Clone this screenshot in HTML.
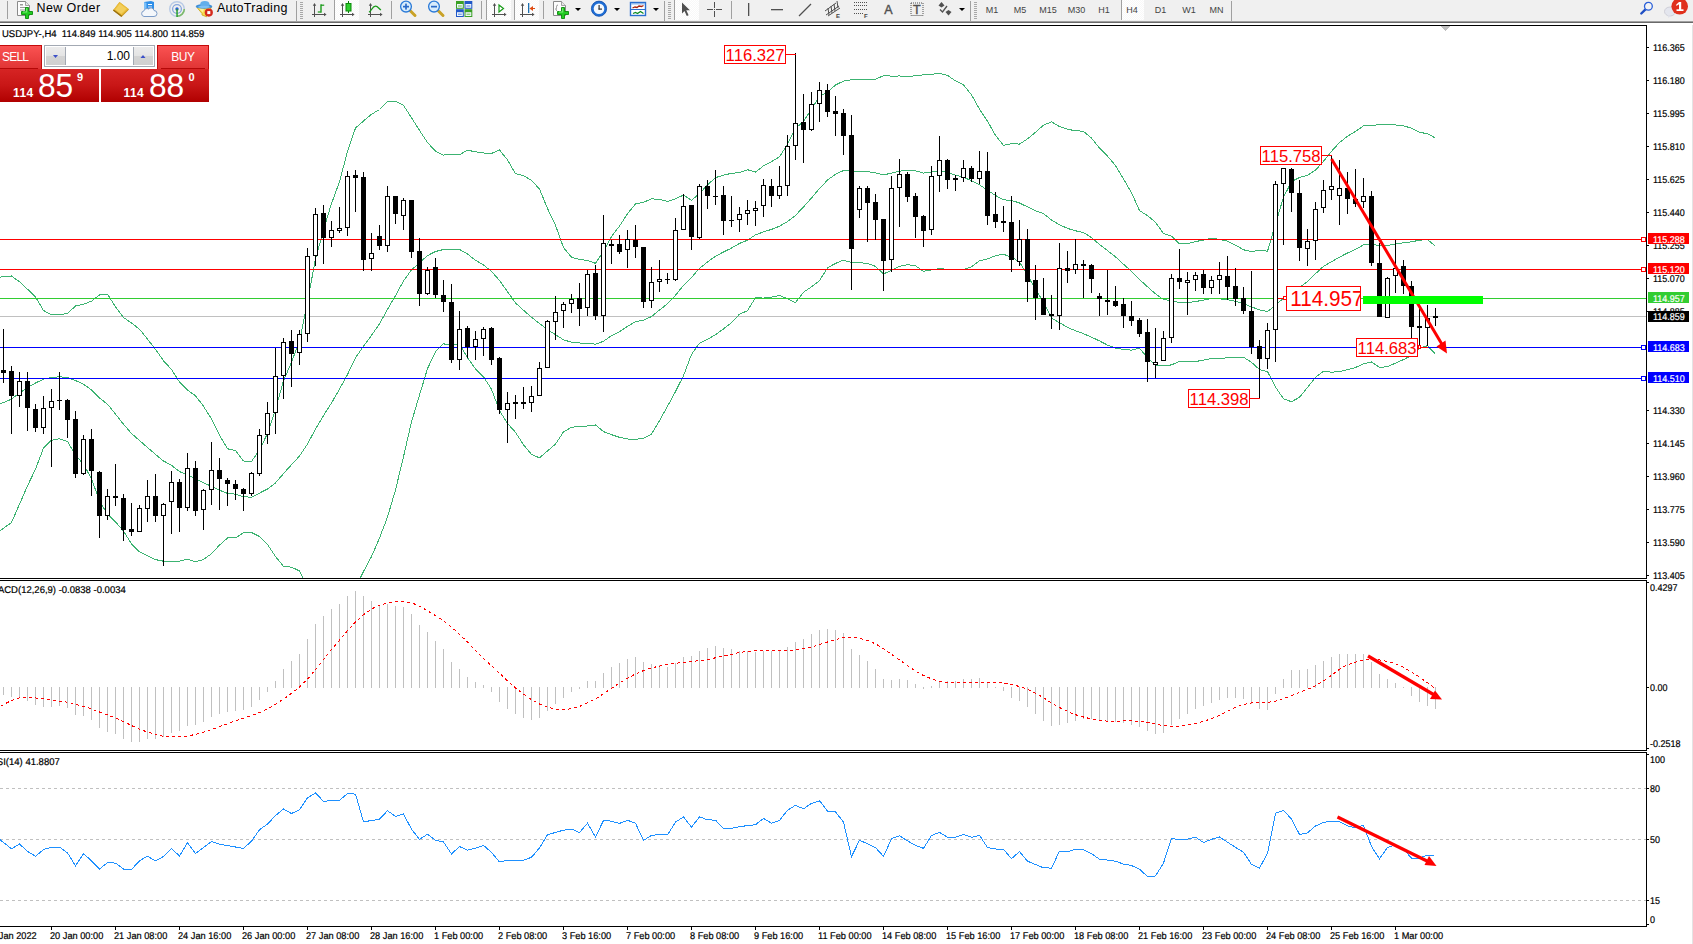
<!DOCTYPE html>
<html><head><meta charset="utf-8"><title>USDJPY H4</title>
<style>
html,body{margin:0;padding:0;background:#fff;}
body{width:1693px;height:944px;position:relative;overflow:hidden;font-family:"Liberation Sans",sans-serif;}
#chart{position:absolute;left:0;top:0;}
.al{position:absolute;left:1653px;font-size:9.8px;transform:scaleX(.915);transform-origin:0 50%;text-rendering:geometricPrecision;-webkit-text-stroke:.2px;line-height:12px;height:12px;color:#000;white-space:nowrap;}
.tagb{position:absolute;left:1648px;width:41px;height:11px;}
.dl{position:absolute;top:931px;font-size:9.8px;transform:scaleX(.94);transform-origin:0 50%;text-rendering:geometricPrecision;-webkit-text-stroke:.2px;line-height:12px;color:#000;white-space:nowrap;}
.pl{position:absolute;border:1px solid #f00;background:#fff;color:#f00;white-space:nowrap;box-sizing:border-box;text-align:center;overflow:hidden;}
.pl span{display:inline-block;transform-origin:50% 50%;}
.t9{position:absolute;font-size:9.8px;transform:scaleX(.97);transform-origin:0 50%;text-rendering:geometricPrecision;-webkit-text-stroke:.2px;line-height:12px;color:#000;white-space:nowrap;}
#tb{position:absolute;left:0;top:0;width:1693px;height:25px;background:#fff;}
#tb .bg{position:absolute;left:0;top:0;width:1693px;height:21px;background:#f0f0f0;}
#tb .l1{position:absolute;left:0;top:21px;width:1693px;height:1px;background:#a0a0a0;}
#tb .l2{position:absolute;left:0;top:22px;width:1693px;height:1px;background:#696969;}
#tb .txt{position:absolute;top:1px;font-size:12px;line-height:15px;color:#000;white-space:nowrap;}
#tb .tf{position:absolute;top:4px;font-size:9px;line-height:12px;color:#444;white-space:nowrap;width:30px;text-align:center;}
#tb svg{position:absolute;left:0;top:0;}
.hl{position:absolute;top:0;height:20px;background-color:#f8f8f8;background-image:linear-gradient(45deg,#fff 25%,transparent 25%,transparent 75%,#fff 75%),linear-gradient(45deg,#fff 25%,transparent 25%,transparent 75%,#fff 75%);background-size:2px 2px;background-position:0 0,1px 1px;border-left:1px solid #a0a0a0;box-sizing:border-box;}
#tp{position:absolute;left:0;top:45px;width:210px;height:57px;font-family:"Liberation Sans",sans-serif;}
#tp .btn{position:absolute;top:0;height:24px;background:linear-gradient(#fa5252,#e03434);border-top:1px solid #c40a0a;box-sizing:border-box;color:#fff;font-size:12px;line-height:22px;white-space:nowrap;}
#tp .pp{position:absolute;top:24px;height:33px;background:linear-gradient(#d62424,#c81616 50%,#b00000);box-sizing:border-box;color:#fff;}
#tp .pp span{position:absolute;white-space:nowrap;}
#tp .s{font-weight:bold;font-size:12px;line-height:12px;top:18px;letter-spacing:.4px;}
#tp .b{font-size:33px;line-height:33px;top:-.3px;transform:scaleX(.96);transform-origin:0 0;}
#tp .u{font-weight:bold;font-size:11px;line-height:11px;top:3px;}
#vol{position:absolute;left:44px;top:0;width:111px;height:22px;border:1px solid #a3a9b3;box-sizing:border-box;background:#fff;}
#vol .sb{position:absolute;top:1px;width:19px;height:18px;background:linear-gradient(#ececec,#e4e4e4 48%,#d4d4d4 52%,#d0d0d0);}
#vol .v{position:absolute;right:24px;top:3px;font-size:12px;line-height:14px;color:#000;}

</style></head><body>
<svg id="chart" width="1693" height="944" viewBox="0 0 1693 944" shape-rendering="crispEdges">
<defs><clipPath id="cm"><rect x="0" y="26" width="1646" height="552"/></clipPath></defs>
<rect x="0" y="316" width="1646" height="1" fill="#c0c0c0"/>
<g clip-path="url(#cm)">
<polyline points="-4.5,277.5 3.5,276.8 11.5,276.0 19.5,281.8 27.5,289.2 35.5,296.8 43.5,310.5 51.5,314.8 59.5,314.8 67.5,313.5 75.5,306.0 83.5,304.2 91.5,301.2 99.5,295.0 107.5,294.2 115.5,306.8 123.5,317.5 131.5,323.0 139.5,329.2 147.5,339.2 155.5,349.3 163.5,360.8 171.5,369.4 179.5,382.1 187.5,390.1 195.5,395.7 203.5,406.3 211.5,418.9 219.5,435.4 227.5,448.8 235.5,450.5 243.5,461.0 251.5,461.6 259.5,449.7 267.5,433.6 275.5,409.2 283.5,380.9 291.5,362.2 299.5,341.1 307.5,301.7 315.5,258.9 323.5,230.0 331.5,203.5 339.5,181.9 347.5,151.3 355.5,128.0 363.5,121.0 371.5,114.3 379.5,109.5 387.5,101.7 395.5,101.3 403.5,105.3 411.5,117.8 419.5,130.4 427.5,142.6 435.5,151.2 443.5,155.1 451.5,154.1 459.5,154.7 467.5,150.2 475.5,151.8 483.5,153.0 491.5,153.5 499.5,150.0 507.5,159.9 515.5,173.7 523.5,175.6 531.5,180.4 539.5,189.1 547.5,208.5 555.5,225.2 563.5,247.6 571.5,257.2 579.5,259.5 587.5,260.4 595.5,263.4 603.5,251.0 611.5,236.5 619.5,226.1 627.5,213.7 635.5,204.0 643.5,202.3 651.5,198.8 659.5,199.4 667.5,201.4 675.5,198.8 683.5,195.1 691.5,200.4 699.5,193.5 707.5,184.9 715.5,177.6 723.5,175.2 731.5,173.3 739.5,172.7 747.5,169.7 755.5,172.1 763.5,165.8 771.5,161.7 779.5,156.8 787.5,144.4 795.5,128.3 803.5,121.5 811.5,109.2 819.5,96.4 827.5,92.2 835.5,85.0 843.5,81.1 851.5,79.8 859.5,79.9 867.5,79.8 875.5,79.2 883.5,75.7 891.5,76.1 899.5,76.0 907.5,76.2 915.5,75.9 923.5,74.8 931.5,74.4 939.5,73.2 947.5,75.4 955.5,80.8 963.5,84.9 971.5,94.8 979.5,109.1 987.5,121.2 995.5,135.3 1003.5,145.4 1011.5,143.7 1019.5,144.1 1027.5,138.9 1035.5,132.2 1043.5,125.2 1051.5,121.8 1059.5,126.6 1067.5,129.3 1075.5,130.7 1083.5,131.3 1091.5,138.1 1099.5,148.1 1107.5,156.1 1115.5,165.6 1123.5,179.0 1131.5,192.6 1139.5,210.6 1147.5,215.7 1155.5,222.2 1163.5,233.5 1171.5,236.1 1179.5,243.8 1187.5,243.8 1195.5,241.5 1203.5,240.2 1211.5,238.3 1219.5,239.3 1227.5,241.2 1235.5,245.2 1243.5,249.8 1251.5,251.5 1259.5,250.3 1267.5,251.2 1275.5,223.8 1283.5,197.3 1291.5,181.6 1299.5,177.5 1307.5,175.4 1315.5,170.1 1323.5,161.3 1331.5,151.3 1339.5,142.6 1347.5,136.3 1355.5,131.3 1363.5,125.9 1371.5,125.8 1379.5,124.4 1387.5,124.4 1395.5,124.9 1403.5,125.9 1411.5,128.1 1419.5,132.4 1427.5,133.6 1435.5,138.2" fill="none" stroke="#3cb371" stroke-width="1"/>
<polyline points="-4.5,405.8 3.5,402.5 11.5,399.2 19.5,393.0 27.5,387.5 35.5,383.0 43.5,379.2 51.5,377.5 59.5,376.8 67.5,377.5 75.5,380.5 83.5,384.2 91.5,390.0 99.5,398.0 107.5,404.2 115.5,414.2 123.5,424.2 131.5,433.5 139.5,440.5 147.5,447.5 155.5,454.4 163.5,461.0 171.5,465.3 179.5,471.6 187.5,474.6 195.5,478.8 203.5,482.9 211.5,486.3 219.5,490.2 227.5,493.4 235.5,494.2 243.5,496.9 251.5,497.1 259.5,493.1 267.5,489.0 275.5,482.9 283.5,473.6 291.5,464.7 299.5,456.0 307.5,444.0 315.5,429.0 323.5,415.6 331.5,403.0 339.5,389.1 347.5,374.5 355.5,357.8 363.5,346.2 371.5,335.4 379.5,323.8 387.5,309.4 395.5,295.6 403.5,281.0 411.5,269.9 419.5,262.8 427.5,255.6 435.5,251.5 443.5,249.5 451.5,249.8 459.5,249.5 467.5,254.0 475.5,260.3 483.5,264.9 491.5,271.4 499.5,280.4 507.5,291.7 515.5,303.0 523.5,310.2 531.5,317.3 539.5,323.5 547.5,329.7 555.5,334.6 563.5,339.8 571.5,342.2 579.5,343.0 587.5,343.2 595.5,344.2 603.5,341.3 611.5,335.6 619.5,331.7 627.5,326.4 635.5,321.7 643.5,320.3 651.5,316.5 659.5,310.0 667.5,303.8 675.5,295.2 683.5,285.4 691.5,277.4 699.5,268.4 707.5,262.0 715.5,256.2 723.5,252.0 731.5,248.1 739.5,243.4 747.5,240.2 755.5,234.9 763.5,231.9 771.5,229.4 779.5,226.2 787.5,221.6 795.5,215.4 803.5,206.9 811.5,198.0 819.5,188.5 827.5,180.1 835.5,174.2 843.5,170.6 851.5,171.2 859.5,171.3 867.5,171.6 875.5,172.8 883.5,174.8 891.5,173.2 899.5,171.2 907.5,170.4 915.5,170.8 923.5,173.1 931.5,172.1 939.5,170.8 947.5,172.5 955.5,175.2 963.5,177.2 971.5,180.8 979.5,184.9 987.5,190.1 995.5,195.5 1003.5,199.8 1011.5,200.4 1019.5,203.0 1027.5,206.9 1035.5,210.9 1043.5,213.6 1051.5,220.0 1059.5,224.7 1067.5,228.4 1075.5,230.8 1083.5,232.5 1091.5,237.6 1099.5,244.5 1107.5,250.6 1115.5,256.9 1123.5,264.2 1131.5,271.3 1139.5,279.4 1147.5,286.8 1155.5,293.8 1163.5,299.6 1171.5,300.5 1179.5,302.6 1187.5,302.6 1195.5,301.5 1203.5,300.2 1211.5,298.4 1219.5,298.8 1227.5,299.6 1235.5,301.3 1243.5,303.5 1251.5,306.9 1259.5,309.9 1267.5,311.4 1275.5,305.4 1283.5,298.0 1291.5,291.7 1299.5,287.4 1307.5,281.4 1315.5,273.7 1323.5,266.3 1331.5,261.8 1339.5,257.1 1347.5,253.0 1355.5,249.4 1363.5,244.8 1371.5,243.9 1379.5,245.9 1387.5,245.5 1395.5,244.0 1403.5,242.8 1411.5,241.8 1419.5,240.2 1427.5,239.6 1435.5,246.2" fill="none" stroke="#3cb371" stroke-width="1"/>
<polyline points="-4.5,534.0 3.5,528.2 11.5,522.5 19.5,504.2 27.5,485.8 35.5,469.2 43.5,448.0 51.5,440.2 59.5,438.8 67.5,441.5 75.5,455.0 83.5,464.2 91.5,478.8 99.5,501.0 107.5,514.2 115.5,521.8 123.5,531.0 131.5,544.0 139.5,551.8 147.5,555.8 155.5,559.6 163.5,561.2 171.5,561.2 179.5,561.1 187.5,559.2 195.5,561.8 203.5,559.5 211.5,553.7 219.5,545.1 227.5,538.0 235.5,537.9 243.5,532.8 251.5,532.5 259.5,536.5 267.5,544.4 275.5,556.6 283.5,566.3 291.5,567.2 299.5,570.9 307.5,586.3 315.5,599.0 323.5,601.2 331.5,602.6 339.5,596.2 347.5,597.7 355.5,587.7 363.5,571.5 371.5,556.6 379.5,538.0 387.5,517.1 395.5,490.0 403.5,456.7 411.5,421.9 419.5,395.1 427.5,368.6 435.5,351.8 443.5,343.8 451.5,345.4 459.5,344.3 467.5,357.8 475.5,368.8 483.5,376.8 491.5,389.2 499.5,410.7 507.5,423.5 515.5,432.3 523.5,444.8 531.5,454.3 539.5,457.9 547.5,451.0 555.5,444.1 563.5,431.9 571.5,427.2 579.5,426.5 587.5,426.0 595.5,425.0 603.5,431.6 611.5,434.7 619.5,437.3 627.5,439.0 635.5,439.4 643.5,438.2 651.5,434.1 659.5,420.6 667.5,406.3 675.5,391.6 683.5,375.7 691.5,354.4 699.5,343.2 707.5,339.2 715.5,334.8 723.5,328.9 731.5,322.8 739.5,314.1 747.5,310.7 755.5,297.7 763.5,298.1 771.5,297.2 779.5,295.5 787.5,298.7 795.5,302.6 803.5,292.2 811.5,286.8 819.5,280.6 827.5,267.9 835.5,263.4 843.5,260.1 851.5,262.6 859.5,262.7 867.5,263.5 875.5,266.4 883.5,273.9 891.5,270.3 899.5,266.4 907.5,264.6 915.5,265.8 923.5,271.3 931.5,269.9 939.5,268.5 947.5,269.5 955.5,269.7 963.5,269.4 971.5,266.9 979.5,260.7 987.5,258.9 995.5,255.7 1003.5,254.3 1011.5,257.1 1019.5,261.9 1027.5,275.0 1035.5,289.6 1043.5,302.0 1051.5,318.1 1059.5,322.7 1067.5,327.4 1075.5,330.8 1083.5,333.7 1091.5,337.2 1099.5,340.9 1107.5,345.1 1115.5,348.2 1123.5,349.4 1131.5,350.1 1139.5,348.2 1147.5,357.8 1155.5,365.4 1163.5,365.8 1171.5,364.9 1179.5,361.5 1187.5,361.5 1195.5,361.5 1203.5,360.2 1211.5,358.5 1219.5,358.3 1227.5,357.9 1235.5,357.3 1243.5,357.2 1251.5,362.3 1259.5,369.6 1267.5,371.5 1275.5,387.0 1283.5,398.8 1291.5,401.7 1299.5,397.3 1307.5,387.4 1315.5,377.3 1323.5,371.4 1331.5,372.2 1339.5,371.6 1347.5,369.6 1355.5,367.5 1363.5,363.7 1371.5,361.9 1379.5,367.5 1387.5,366.6 1395.5,363.1 1403.5,359.6 1411.5,355.5 1419.5,348.1 1427.5,345.7 1435.5,354.3" fill="none" stroke="#3cb371" stroke-width="1"/>
</g>
<rect x="0" y="239" width="1646" height="1" fill="#ff0000"/>
<rect x="0" y="269" width="1646" height="1" fill="#ff0000"/>
<rect x="0" y="298" width="1646" height="1" fill="#32cd32"/>
<rect x="0" y="347" width="1646" height="1" fill="#0000ff"/>
<rect x="0" y="378" width="1646" height="1" fill="#0000ff"/>
<rect x="3" y="329" width="1" height="54" fill="#000"/>
<rect x="1" y="370" width="5" height="3" fill="#000"/>
<rect x="11" y="366" width="1" height="68" fill="#000"/>
<rect x="9" y="371" width="5" height="25" fill="#000"/>
<rect x="19" y="372" width="1" height="35" fill="#000"/>
<rect x="17" y="381" width="5" height="15" fill="#000"/>
<rect x="18" y="382" width="3" height="13" fill="#fff"/>
<rect x="27" y="372" width="1" height="59" fill="#000"/>
<rect x="25" y="381" width="5" height="27" fill="#000"/>
<rect x="35" y="404" width="1" height="28" fill="#000"/>
<rect x="33" y="409" width="5" height="19" fill="#000"/>
<rect x="43" y="396" width="1" height="38" fill="#000"/>
<rect x="41" y="408" width="5" height="20" fill="#000"/>
<rect x="42" y="409" width="3" height="18" fill="#fff"/>
<rect x="51" y="389" width="1" height="78" fill="#000"/>
<rect x="49" y="401" width="5" height="7" fill="#000"/>
<rect x="50" y="402" width="3" height="5" fill="#fff"/>
<rect x="59" y="372" width="1" height="38" fill="#000"/>
<rect x="57" y="400" width="5" height="1" fill="#000"/>
<rect x="67" y="399" width="1" height="39" fill="#000"/>
<rect x="65" y="400" width="5" height="20" fill="#000"/>
<rect x="75" y="411" width="1" height="67" fill="#000"/>
<rect x="73" y="419" width="5" height="55" fill="#000"/>
<rect x="83" y="435" width="1" height="40" fill="#000"/>
<rect x="81" y="439" width="5" height="35" fill="#000"/>
<rect x="82" y="440" width="3" height="33" fill="#fff"/>
<rect x="91" y="429" width="1" height="67" fill="#000"/>
<rect x="89" y="439" width="5" height="32" fill="#000"/>
<rect x="99" y="471" width="1" height="67" fill="#000"/>
<rect x="97" y="472" width="5" height="44" fill="#000"/>
<rect x="107" y="489" width="1" height="31" fill="#000"/>
<rect x="105" y="496" width="5" height="20" fill="#000"/>
<rect x="106" y="497" width="3" height="18" fill="#fff"/>
<rect x="115" y="464" width="1" height="42" fill="#000"/>
<rect x="113" y="496" width="5" height="2" fill="#000"/>
<rect x="123" y="494" width="1" height="47" fill="#000"/>
<rect x="121" y="498" width="5" height="32" fill="#000"/>
<rect x="131" y="503" width="1" height="33" fill="#000"/>
<rect x="129" y="529" width="5" height="3" fill="#000"/>
<rect x="139" y="505" width="1" height="27" fill="#000"/>
<rect x="137" y="508" width="5" height="24" fill="#000"/>
<rect x="138" y="509" width="3" height="22" fill="#fff"/>
<rect x="147" y="480" width="1" height="42" fill="#000"/>
<rect x="145" y="496" width="5" height="13" fill="#000"/>
<rect x="146" y="497" width="3" height="11" fill="#fff"/>
<rect x="155" y="474" width="1" height="48" fill="#000"/>
<rect x="153" y="496" width="5" height="20" fill="#000"/>
<rect x="163" y="503" width="1" height="63" fill="#000"/>
<rect x="161" y="504" width="5" height="12" fill="#000"/>
<rect x="162" y="505" width="3" height="10" fill="#fff"/>
<rect x="171" y="471" width="1" height="63" fill="#000"/>
<rect x="169" y="482" width="5" height="20" fill="#000"/>
<rect x="170" y="483" width="3" height="18" fill="#fff"/>
<rect x="179" y="479" width="1" height="53" fill="#000"/>
<rect x="177" y="482" width="5" height="26" fill="#000"/>
<rect x="187" y="453" width="1" height="58" fill="#000"/>
<rect x="185" y="468" width="5" height="40" fill="#000"/>
<rect x="186" y="469" width="3" height="38" fill="#fff"/>
<rect x="195" y="461" width="1" height="55" fill="#000"/>
<rect x="193" y="468" width="5" height="43" fill="#000"/>
<rect x="203" y="489" width="1" height="41" fill="#000"/>
<rect x="201" y="490" width="5" height="20" fill="#000"/>
<rect x="202" y="491" width="3" height="18" fill="#fff"/>
<rect x="211" y="442" width="1" height="63" fill="#000"/>
<rect x="209" y="470" width="5" height="20" fill="#000"/>
<rect x="210" y="471" width="3" height="18" fill="#fff"/>
<rect x="219" y="458" width="1" height="52" fill="#000"/>
<rect x="217" y="470" width="5" height="9" fill="#000"/>
<rect x="227" y="478" width="1" height="28" fill="#000"/>
<rect x="225" y="480" width="5" height="4" fill="#000"/>
<rect x="235" y="480" width="1" height="20" fill="#000"/>
<rect x="233" y="484" width="5" height="5" fill="#000"/>
<rect x="243" y="488" width="1" height="23" fill="#000"/>
<rect x="241" y="489" width="5" height="5" fill="#000"/>
<rect x="251" y="472" width="1" height="24" fill="#000"/>
<rect x="249" y="473" width="5" height="21" fill="#000"/>
<rect x="250" y="474" width="3" height="19" fill="#fff"/>
<rect x="259" y="429" width="1" height="47" fill="#000"/>
<rect x="257" y="435" width="5" height="39" fill="#000"/>
<rect x="258" y="436" width="3" height="37" fill="#fff"/>
<rect x="267" y="402" width="1" height="42" fill="#000"/>
<rect x="265" y="413" width="5" height="22" fill="#000"/>
<rect x="266" y="414" width="3" height="20" fill="#fff"/>
<rect x="275" y="348" width="1" height="86" fill="#000"/>
<rect x="273" y="376" width="5" height="37" fill="#000"/>
<rect x="274" y="377" width="3" height="35" fill="#fff"/>
<rect x="283" y="338" width="1" height="61" fill="#000"/>
<rect x="281" y="342" width="5" height="34" fill="#000"/>
<rect x="282" y="343" width="3" height="32" fill="#fff"/>
<rect x="291" y="330" width="1" height="57" fill="#000"/>
<rect x="289" y="341" width="5" height="13" fill="#000"/>
<rect x="299" y="330" width="1" height="35" fill="#000"/>
<rect x="297" y="334" width="5" height="19" fill="#000"/>
<rect x="298" y="335" width="3" height="17" fill="#fff"/>
<rect x="307" y="248" width="1" height="94" fill="#000"/>
<rect x="305" y="256" width="5" height="78" fill="#000"/>
<rect x="306" y="257" width="3" height="76" fill="#fff"/>
<rect x="315" y="208" width="1" height="58" fill="#000"/>
<rect x="313" y="214" width="5" height="42" fill="#000"/>
<rect x="314" y="215" width="3" height="40" fill="#fff"/>
<rect x="323" y="205" width="1" height="59" fill="#000"/>
<rect x="321" y="213" width="5" height="25" fill="#000"/>
<rect x="331" y="221" width="1" height="26" fill="#000"/>
<rect x="329" y="230" width="5" height="8" fill="#000"/>
<rect x="330" y="231" width="3" height="6" fill="#fff"/>
<rect x="339" y="207" width="1" height="26" fill="#000"/>
<rect x="337" y="228" width="5" height="3" fill="#000"/>
<rect x="338" y="229" width="3" height="1" fill="#fff"/>
<rect x="347" y="171" width="1" height="65" fill="#000"/>
<rect x="345" y="176" width="5" height="52" fill="#000"/>
<rect x="346" y="177" width="3" height="50" fill="#fff"/>
<rect x="355" y="170" width="1" height="42" fill="#000"/>
<rect x="353" y="175" width="5" height="3" fill="#000"/>
<rect x="363" y="172" width="1" height="99" fill="#000"/>
<rect x="361" y="177" width="5" height="83" fill="#000"/>
<rect x="371" y="233" width="1" height="38" fill="#000"/>
<rect x="369" y="253" width="5" height="6" fill="#000"/>
<rect x="370" y="254" width="3" height="4" fill="#fff"/>
<rect x="379" y="225" width="1" height="25" fill="#000"/>
<rect x="377" y="236" width="5" height="10" fill="#000"/>
<rect x="387" y="186" width="1" height="66" fill="#000"/>
<rect x="385" y="196" width="5" height="50" fill="#000"/>
<rect x="386" y="197" width="3" height="48" fill="#fff"/>
<rect x="395" y="196" width="1" height="28" fill="#000"/>
<rect x="393" y="196" width="5" height="18" fill="#000"/>
<rect x="403" y="198" width="1" height="32" fill="#000"/>
<rect x="401" y="200" width="5" height="16" fill="#000"/>
<rect x="402" y="201" width="3" height="14" fill="#fff"/>
<rect x="411" y="200" width="1" height="58" fill="#000"/>
<rect x="409" y="200" width="5" height="52" fill="#000"/>
<rect x="419" y="238" width="1" height="68" fill="#000"/>
<rect x="417" y="251" width="5" height="43" fill="#000"/>
<rect x="427" y="267" width="1" height="28" fill="#000"/>
<rect x="425" y="270" width="5" height="24" fill="#000"/>
<rect x="426" y="271" width="3" height="22" fill="#fff"/>
<rect x="435" y="258" width="1" height="40" fill="#000"/>
<rect x="433" y="267" width="5" height="28" fill="#000"/>
<rect x="443" y="280" width="1" height="32" fill="#000"/>
<rect x="441" y="295" width="5" height="7" fill="#000"/>
<rect x="451" y="284" width="1" height="79" fill="#000"/>
<rect x="449" y="302" width="5" height="58" fill="#000"/>
<rect x="459" y="311" width="1" height="59" fill="#000"/>
<rect x="457" y="329" width="5" height="31" fill="#000"/>
<rect x="458" y="330" width="3" height="29" fill="#fff"/>
<rect x="467" y="326" width="1" height="32" fill="#000"/>
<rect x="465" y="328" width="5" height="19" fill="#000"/>
<rect x="475" y="331" width="1" height="29" fill="#000"/>
<rect x="473" y="339" width="5" height="8" fill="#000"/>
<rect x="474" y="340" width="3" height="6" fill="#fff"/>
<rect x="483" y="327" width="1" height="29" fill="#000"/>
<rect x="481" y="329" width="5" height="10" fill="#000"/>
<rect x="482" y="330" width="3" height="8" fill="#fff"/>
<rect x="491" y="327" width="1" height="38" fill="#000"/>
<rect x="489" y="328" width="5" height="32" fill="#000"/>
<rect x="499" y="357" width="1" height="57" fill="#000"/>
<rect x="497" y="358" width="5" height="52" fill="#000"/>
<rect x="507" y="392" width="1" height="51" fill="#000"/>
<rect x="505" y="403" width="5" height="7" fill="#000"/>
<rect x="506" y="404" width="3" height="5" fill="#fff"/>
<rect x="515" y="395" width="1" height="24" fill="#000"/>
<rect x="513" y="402" width="5" height="2" fill="#000"/>
<rect x="523" y="387" width="1" height="22" fill="#000"/>
<rect x="521" y="402" width="5" height="2" fill="#000"/>
<rect x="531" y="386" width="1" height="26" fill="#000"/>
<rect x="529" y="396" width="5" height="7" fill="#000"/>
<rect x="530" y="397" width="3" height="5" fill="#fff"/>
<rect x="539" y="362" width="1" height="34" fill="#000"/>
<rect x="537" y="368" width="5" height="28" fill="#000"/>
<rect x="538" y="369" width="3" height="26" fill="#fff"/>
<rect x="547" y="320" width="1" height="48" fill="#000"/>
<rect x="545" y="321" width="5" height="47" fill="#000"/>
<rect x="546" y="322" width="3" height="45" fill="#fff"/>
<rect x="555" y="296" width="1" height="44" fill="#000"/>
<rect x="553" y="312" width="5" height="10" fill="#000"/>
<rect x="554" y="313" width="3" height="8" fill="#fff"/>
<rect x="563" y="302" width="1" height="26" fill="#000"/>
<rect x="561" y="304" width="5" height="7" fill="#000"/>
<rect x="562" y="305" width="3" height="5" fill="#fff"/>
<rect x="571" y="294" width="1" height="19" fill="#000"/>
<rect x="569" y="299" width="5" height="5" fill="#000"/>
<rect x="570" y="300" width="3" height="3" fill="#fff"/>
<rect x="579" y="283" width="1" height="43" fill="#000"/>
<rect x="577" y="298" width="5" height="11" fill="#000"/>
<rect x="587" y="270" width="1" height="46" fill="#000"/>
<rect x="585" y="274" width="5" height="34" fill="#000"/>
<rect x="586" y="275" width="3" height="32" fill="#fff"/>
<rect x="595" y="265" width="1" height="55" fill="#000"/>
<rect x="593" y="273" width="5" height="43" fill="#000"/>
<rect x="603" y="215" width="1" height="117" fill="#000"/>
<rect x="601" y="243" width="5" height="73" fill="#000"/>
<rect x="602" y="244" width="3" height="71" fill="#fff"/>
<rect x="611" y="240" width="1" height="24" fill="#000"/>
<rect x="609" y="244" width="5" height="2" fill="#000"/>
<rect x="619" y="235" width="1" height="19" fill="#000"/>
<rect x="617" y="244" width="5" height="8" fill="#000"/>
<rect x="627" y="230" width="1" height="38" fill="#000"/>
<rect x="625" y="239" width="5" height="11" fill="#000"/>
<rect x="626" y="240" width="3" height="9" fill="#fff"/>
<rect x="635" y="225" width="1" height="33" fill="#000"/>
<rect x="633" y="240" width="5" height="7" fill="#000"/>
<rect x="643" y="247" width="1" height="61" fill="#000"/>
<rect x="641" y="247" width="5" height="55" fill="#000"/>
<rect x="651" y="267" width="1" height="41" fill="#000"/>
<rect x="649" y="282" width="5" height="19" fill="#000"/>
<rect x="650" y="283" width="3" height="17" fill="#fff"/>
<rect x="659" y="260" width="1" height="32" fill="#000"/>
<rect x="657" y="279" width="5" height="3" fill="#000"/>
<rect x="658" y="280" width="3" height="1" fill="#fff"/>
<rect x="667" y="273" width="1" height="11" fill="#000"/>
<rect x="665" y="279" width="5" height="1" fill="#000"/>
<rect x="675" y="218" width="1" height="63" fill="#000"/>
<rect x="673" y="230" width="5" height="50" fill="#000"/>
<rect x="674" y="231" width="3" height="48" fill="#fff"/>
<rect x="683" y="194" width="1" height="36" fill="#000"/>
<rect x="681" y="206" width="5" height="24" fill="#000"/>
<rect x="682" y="207" width="3" height="22" fill="#fff"/>
<rect x="691" y="205" width="1" height="45" fill="#000"/>
<rect x="689" y="205" width="5" height="32" fill="#000"/>
<rect x="699" y="184" width="1" height="55" fill="#000"/>
<rect x="697" y="186" width="5" height="52" fill="#000"/>
<rect x="698" y="187" width="3" height="50" fill="#fff"/>
<rect x="707" y="180" width="1" height="29" fill="#000"/>
<rect x="705" y="186" width="5" height="10" fill="#000"/>
<rect x="715" y="170" width="1" height="35" fill="#000"/>
<rect x="713" y="196" width="5" height="1" fill="#000"/>
<rect x="723" y="186" width="1" height="49" fill="#000"/>
<rect x="721" y="195" width="5" height="26" fill="#000"/>
<rect x="731" y="196" width="1" height="31" fill="#000"/>
<rect x="729" y="220" width="5" height="1" fill="#000"/>
<rect x="739" y="207" width="1" height="25" fill="#000"/>
<rect x="737" y="214" width="5" height="6" fill="#000"/>
<rect x="738" y="215" width="3" height="4" fill="#fff"/>
<rect x="747" y="200" width="1" height="25" fill="#000"/>
<rect x="745" y="210" width="5" height="4" fill="#000"/>
<rect x="746" y="211" width="3" height="2" fill="#fff"/>
<rect x="755" y="201" width="1" height="25" fill="#000"/>
<rect x="753" y="208" width="5" height="3" fill="#000"/>
<rect x="754" y="209" width="3" height="1" fill="#fff"/>
<rect x="763" y="179" width="1" height="38" fill="#000"/>
<rect x="761" y="185" width="5" height="21" fill="#000"/>
<rect x="762" y="186" width="3" height="19" fill="#fff"/>
<rect x="771" y="179" width="1" height="28" fill="#000"/>
<rect x="769" y="186" width="5" height="10" fill="#000"/>
<rect x="779" y="166" width="1" height="33" fill="#000"/>
<rect x="777" y="186" width="5" height="10" fill="#000"/>
<rect x="778" y="187" width="3" height="8" fill="#fff"/>
<rect x="787" y="135" width="1" height="61" fill="#000"/>
<rect x="785" y="146" width="5" height="40" fill="#000"/>
<rect x="786" y="147" width="3" height="38" fill="#fff"/>
<rect x="795" y="53" width="1" height="107" fill="#000"/>
<rect x="793" y="123" width="5" height="23" fill="#000"/>
<rect x="794" y="124" width="3" height="21" fill="#fff"/>
<rect x="803" y="94" width="1" height="69" fill="#000"/>
<rect x="801" y="122" width="5" height="8" fill="#000"/>
<rect x="811" y="92" width="1" height="39" fill="#000"/>
<rect x="809" y="104" width="5" height="26" fill="#000"/>
<rect x="810" y="105" width="3" height="24" fill="#fff"/>
<rect x="819" y="82" width="1" height="40" fill="#000"/>
<rect x="817" y="90" width="5" height="14" fill="#000"/>
<rect x="818" y="91" width="3" height="12" fill="#fff"/>
<rect x="827" y="84" width="1" height="33" fill="#000"/>
<rect x="825" y="90" width="5" height="22" fill="#000"/>
<rect x="835" y="96" width="1" height="40" fill="#000"/>
<rect x="833" y="111" width="5" height="3" fill="#000"/>
<rect x="843" y="109" width="1" height="46" fill="#000"/>
<rect x="841" y="113" width="5" height="23" fill="#000"/>
<rect x="851" y="115" width="1" height="175" fill="#000"/>
<rect x="849" y="135" width="5" height="114" fill="#000"/>
<rect x="859" y="186" width="1" height="32" fill="#000"/>
<rect x="857" y="188" width="5" height="22" fill="#000"/>
<rect x="858" y="189" width="3" height="20" fill="#fff"/>
<rect x="867" y="186" width="1" height="56" fill="#000"/>
<rect x="865" y="188" width="5" height="15" fill="#000"/>
<rect x="875" y="194" width="1" height="46" fill="#000"/>
<rect x="873" y="202" width="5" height="18" fill="#000"/>
<rect x="883" y="219" width="1" height="72" fill="#000"/>
<rect x="881" y="219" width="5" height="42" fill="#000"/>
<rect x="891" y="176" width="1" height="96" fill="#000"/>
<rect x="889" y="188" width="5" height="72" fill="#000"/>
<rect x="890" y="189" width="3" height="70" fill="#fff"/>
<rect x="899" y="159" width="1" height="68" fill="#000"/>
<rect x="897" y="174" width="5" height="14" fill="#000"/>
<rect x="898" y="175" width="3" height="12" fill="#fff"/>
<rect x="907" y="172" width="1" height="30" fill="#000"/>
<rect x="905" y="174" width="5" height="23" fill="#000"/>
<rect x="915" y="193" width="1" height="45" fill="#000"/>
<rect x="913" y="196" width="5" height="21" fill="#000"/>
<rect x="923" y="215" width="1" height="32" fill="#000"/>
<rect x="921" y="216" width="5" height="15" fill="#000"/>
<rect x="931" y="166" width="1" height="69" fill="#000"/>
<rect x="929" y="176" width="5" height="54" fill="#000"/>
<rect x="930" y="177" width="3" height="52" fill="#fff"/>
<rect x="939" y="136" width="1" height="56" fill="#000"/>
<rect x="937" y="160" width="5" height="16" fill="#000"/>
<rect x="938" y="161" width="3" height="14" fill="#fff"/>
<rect x="947" y="159" width="1" height="30" fill="#000"/>
<rect x="945" y="160" width="5" height="20" fill="#000"/>
<rect x="955" y="175" width="1" height="16" fill="#000"/>
<rect x="953" y="178" width="5" height="2" fill="#000"/>
<rect x="963" y="160" width="1" height="22" fill="#000"/>
<rect x="961" y="168" width="5" height="10" fill="#000"/>
<rect x="962" y="169" width="3" height="8" fill="#fff"/>
<rect x="971" y="166" width="1" height="16" fill="#000"/>
<rect x="969" y="168" width="5" height="11" fill="#000"/>
<rect x="979" y="151" width="1" height="33" fill="#000"/>
<rect x="977" y="171" width="5" height="8" fill="#000"/>
<rect x="978" y="172" width="3" height="6" fill="#fff"/>
<rect x="987" y="152" width="1" height="73" fill="#000"/>
<rect x="985" y="171" width="5" height="45" fill="#000"/>
<rect x="995" y="192" width="1" height="36" fill="#000"/>
<rect x="993" y="214" width="5" height="8" fill="#000"/>
<rect x="1003" y="206" width="1" height="26" fill="#000"/>
<rect x="1001" y="221" width="5" height="2" fill="#000"/>
<rect x="1011" y="196" width="1" height="76" fill="#000"/>
<rect x="1009" y="222" width="5" height="38" fill="#000"/>
<rect x="1019" y="220" width="1" height="46" fill="#000"/>
<rect x="1017" y="239" width="5" height="23" fill="#000"/>
<rect x="1018" y="240" width="3" height="21" fill="#fff"/>
<rect x="1027" y="229" width="1" height="73" fill="#000"/>
<rect x="1025" y="239" width="5" height="43" fill="#000"/>
<rect x="1035" y="265" width="1" height="55" fill="#000"/>
<rect x="1033" y="280" width="5" height="18" fill="#000"/>
<rect x="1043" y="278" width="1" height="37" fill="#000"/>
<rect x="1041" y="298" width="5" height="17" fill="#000"/>
<rect x="1051" y="295" width="1" height="34" fill="#000"/>
<rect x="1049" y="314" width="5" height="2" fill="#000"/>
<rect x="1059" y="243" width="1" height="87" fill="#000"/>
<rect x="1057" y="268" width="5" height="48" fill="#000"/>
<rect x="1058" y="269" width="3" height="46" fill="#fff"/>
<rect x="1067" y="251" width="1" height="32" fill="#000"/>
<rect x="1065" y="268" width="5" height="3" fill="#000"/>
<rect x="1075" y="239" width="1" height="35" fill="#000"/>
<rect x="1073" y="264" width="5" height="6" fill="#000"/>
<rect x="1074" y="265" width="3" height="4" fill="#fff"/>
<rect x="1083" y="260" width="1" height="38" fill="#000"/>
<rect x="1081" y="264" width="5" height="2" fill="#000"/>
<rect x="1091" y="264" width="1" height="29" fill="#000"/>
<rect x="1089" y="265" width="5" height="14" fill="#000"/>
<rect x="1099" y="293" width="1" height="23" fill="#000"/>
<rect x="1097" y="296" width="5" height="3" fill="#000"/>
<rect x="1107" y="270" width="1" height="45" fill="#000"/>
<rect x="1105" y="300" width="5" height="2" fill="#000"/>
<rect x="1115" y="286" width="1" height="21" fill="#000"/>
<rect x="1113" y="301" width="5" height="5" fill="#000"/>
<rect x="1123" y="298" width="1" height="30" fill="#000"/>
<rect x="1121" y="304" width="5" height="12" fill="#000"/>
<rect x="1131" y="301" width="1" height="25" fill="#000"/>
<rect x="1129" y="316" width="5" height="5" fill="#000"/>
<rect x="1139" y="318" width="1" height="19" fill="#000"/>
<rect x="1137" y="320" width="5" height="14" fill="#000"/>
<rect x="1147" y="319" width="1" height="63" fill="#000"/>
<rect x="1145" y="332" width="5" height="30" fill="#000"/>
<rect x="1155" y="328" width="1" height="50" fill="#000"/>
<rect x="1153" y="362" width="5" height="3" fill="#000"/>
<rect x="1154" y="363" width="3" height="1" fill="#fff"/>
<rect x="1163" y="331" width="1" height="30" fill="#000"/>
<rect x="1161" y="338" width="5" height="23" fill="#000"/>
<rect x="1162" y="339" width="3" height="21" fill="#fff"/>
<rect x="1171" y="274" width="1" height="69" fill="#000"/>
<rect x="1169" y="278" width="5" height="60" fill="#000"/>
<rect x="1170" y="279" width="3" height="58" fill="#fff"/>
<rect x="1179" y="249" width="1" height="40" fill="#000"/>
<rect x="1177" y="278" width="5" height="4" fill="#000"/>
<rect x="1187" y="272" width="1" height="43" fill="#000"/>
<rect x="1185" y="280" width="5" height="3" fill="#000"/>
<rect x="1186" y="281" width="3" height="1" fill="#fff"/>
<rect x="1195" y="272" width="1" height="19" fill="#000"/>
<rect x="1193" y="275" width="5" height="5" fill="#000"/>
<rect x="1194" y="276" width="3" height="3" fill="#fff"/>
<rect x="1203" y="270" width="1" height="24" fill="#000"/>
<rect x="1201" y="274" width="5" height="14" fill="#000"/>
<rect x="1211" y="276" width="1" height="18" fill="#000"/>
<rect x="1209" y="280" width="5" height="8" fill="#000"/>
<rect x="1210" y="281" width="3" height="6" fill="#fff"/>
<rect x="1219" y="262" width="1" height="32" fill="#000"/>
<rect x="1217" y="275" width="5" height="5" fill="#000"/>
<rect x="1218" y="276" width="3" height="3" fill="#fff"/>
<rect x="1227" y="256" width="1" height="44" fill="#000"/>
<rect x="1225" y="276" width="5" height="11" fill="#000"/>
<rect x="1235" y="268" width="1" height="38" fill="#000"/>
<rect x="1233" y="286" width="5" height="13" fill="#000"/>
<rect x="1243" y="287" width="1" height="27" fill="#000"/>
<rect x="1241" y="298" width="5" height="13" fill="#000"/>
<rect x="1251" y="271" width="1" height="83" fill="#000"/>
<rect x="1249" y="311" width="5" height="36" fill="#000"/>
<rect x="1259" y="340" width="1" height="58" fill="#000"/>
<rect x="1257" y="346" width="5" height="13" fill="#000"/>
<rect x="1267" y="323" width="1" height="46" fill="#000"/>
<rect x="1265" y="330" width="5" height="29" fill="#000"/>
<rect x="1266" y="331" width="3" height="27" fill="#fff"/>
<rect x="1275" y="181" width="1" height="181" fill="#000"/>
<rect x="1273" y="184" width="5" height="146" fill="#000"/>
<rect x="1274" y="185" width="3" height="144" fill="#fff"/>
<rect x="1283" y="168" width="1" height="77" fill="#000"/>
<rect x="1281" y="168" width="5" height="16" fill="#000"/>
<rect x="1282" y="169" width="3" height="14" fill="#fff"/>
<rect x="1291" y="168" width="1" height="44" fill="#000"/>
<rect x="1289" y="169" width="5" height="24" fill="#000"/>
<rect x="1299" y="180" width="1" height="81" fill="#000"/>
<rect x="1297" y="193" width="5" height="55" fill="#000"/>
<rect x="1307" y="229" width="1" height="37" fill="#000"/>
<rect x="1305" y="241" width="5" height="8" fill="#000"/>
<rect x="1306" y="242" width="3" height="6" fill="#fff"/>
<rect x="1315" y="202" width="1" height="58" fill="#000"/>
<rect x="1313" y="209" width="5" height="32" fill="#000"/>
<rect x="1314" y="210" width="3" height="30" fill="#fff"/>
<rect x="1323" y="180" width="1" height="33" fill="#000"/>
<rect x="1321" y="190" width="5" height="18" fill="#000"/>
<rect x="1322" y="191" width="3" height="16" fill="#fff"/>
<rect x="1331" y="156" width="1" height="44" fill="#000"/>
<rect x="1329" y="186" width="5" height="4" fill="#000"/>
<rect x="1330" y="187" width="3" height="2" fill="#fff"/>
<rect x="1339" y="160" width="1" height="65" fill="#000"/>
<rect x="1337" y="188" width="5" height="8" fill="#000"/>
<rect x="1338" y="189" width="3" height="6" fill="#fff"/>
<rect x="1347" y="172" width="1" height="42" fill="#000"/>
<rect x="1345" y="188" width="5" height="11" fill="#000"/>
<rect x="1355" y="169" width="1" height="38" fill="#000"/>
<rect x="1353" y="199" width="5" height="5" fill="#000"/>
<rect x="1363" y="178" width="1" height="30" fill="#000"/>
<rect x="1361" y="196" width="5" height="6" fill="#000"/>
<rect x="1362" y="197" width="3" height="4" fill="#fff"/>
<rect x="1371" y="191" width="1" height="75" fill="#000"/>
<rect x="1369" y="196" width="5" height="67" fill="#000"/>
<rect x="1379" y="243" width="1" height="74" fill="#000"/>
<rect x="1377" y="263" width="5" height="54" fill="#000"/>
<rect x="1387" y="277" width="1" height="41" fill="#000"/>
<rect x="1385" y="278" width="5" height="40" fill="#000"/>
<rect x="1386" y="279" width="3" height="38" fill="#fff"/>
<rect x="1395" y="240" width="1" height="53" fill="#000"/>
<rect x="1393" y="268" width="5" height="8" fill="#000"/>
<rect x="1394" y="269" width="3" height="6" fill="#fff"/>
<rect x="1403" y="260" width="1" height="34" fill="#000"/>
<rect x="1401" y="266" width="5" height="20" fill="#000"/>
<rect x="1411" y="281" width="1" height="59" fill="#000"/>
<rect x="1409" y="286" width="5" height="41" fill="#000"/>
<rect x="1419" y="305" width="1" height="40" fill="#000"/>
<rect x="1417" y="326" width="5" height="2" fill="#000"/>
<rect x="1427" y="305" width="1" height="41" fill="#000"/>
<rect x="1425" y="318" width="5" height="10" fill="#000"/>
<rect x="1426" y="319" width="3" height="8" fill="#fff"/>
<rect x="1435" y="308" width="1" height="18" fill="#000"/>
<rect x="1433" y="316" width="5" height="2" fill="#000"/>
<rect x="3" y="687" width="1" height="8" fill="#c0c0c0"/>
<rect x="11" y="687" width="1" height="10" fill="#c0c0c0"/>
<rect x="19" y="687" width="1" height="11" fill="#c0c0c0"/>
<rect x="27" y="687" width="1" height="14" fill="#c0c0c0"/>
<rect x="35" y="687" width="1" height="18" fill="#c0c0c0"/>
<rect x="43" y="687" width="1" height="20" fill="#c0c0c0"/>
<rect x="51" y="687" width="1" height="20" fill="#c0c0c0"/>
<rect x="59" y="687" width="1" height="19" fill="#c0c0c0"/>
<rect x="67" y="687" width="1" height="21" fill="#c0c0c0"/>
<rect x="75" y="687" width="1" height="28" fill="#c0c0c0"/>
<rect x="83" y="687" width="1" height="29" fill="#c0c0c0"/>
<rect x="91" y="687" width="1" height="33" fill="#c0c0c0"/>
<rect x="99" y="687" width="1" height="41" fill="#c0c0c0"/>
<rect x="107" y="687" width="1" height="45" fill="#c0c0c0"/>
<rect x="115" y="687" width="1" height="47" fill="#c0c0c0"/>
<rect x="123" y="687" width="1" height="52" fill="#c0c0c0"/>
<rect x="131" y="687" width="1" height="55" fill="#c0c0c0"/>
<rect x="139" y="687" width="1" height="55" fill="#c0c0c0"/>
<rect x="147" y="687" width="1" height="52" fill="#c0c0c0"/>
<rect x="155" y="687" width="1" height="52" fill="#c0c0c0"/>
<rect x="163" y="687" width="1" height="50" fill="#c0c0c0"/>
<rect x="171" y="687" width="1" height="46" fill="#c0c0c0"/>
<rect x="179" y="687" width="1" height="44" fill="#c0c0c0"/>
<rect x="187" y="687" width="1" height="39" fill="#c0c0c0"/>
<rect x="195" y="687" width="1" height="38" fill="#c0c0c0"/>
<rect x="203" y="687" width="1" height="35" fill="#c0c0c0"/>
<rect x="211" y="687" width="1" height="30" fill="#c0c0c0"/>
<rect x="219" y="687" width="1" height="27" fill="#c0c0c0"/>
<rect x="227" y="687" width="1" height="25" fill="#c0c0c0"/>
<rect x="235" y="687" width="1" height="24" fill="#c0c0c0"/>
<rect x="243" y="687" width="1" height="23" fill="#c0c0c0"/>
<rect x="251" y="687" width="1" height="20" fill="#c0c0c0"/>
<rect x="259" y="687" width="1" height="13" fill="#c0c0c0"/>
<rect x="267" y="687" width="1" height="5" fill="#c0c0c0"/>
<rect x="275" y="681" width="1" height="7" fill="#c0c0c0"/>
<rect x="283" y="669" width="1" height="19" fill="#c0c0c0"/>
<rect x="291" y="661" width="1" height="27" fill="#c0c0c0"/>
<rect x="299" y="654" width="1" height="34" fill="#c0c0c0"/>
<rect x="307" y="639" width="1" height="49" fill="#c0c0c0"/>
<rect x="315" y="624" width="1" height="64" fill="#c0c0c0"/>
<rect x="323" y="616" width="1" height="72" fill="#c0c0c0"/>
<rect x="331" y="609" width="1" height="79" fill="#c0c0c0"/>
<rect x="339" y="604" width="1" height="84" fill="#c0c0c0"/>
<rect x="347" y="596" width="1" height="92" fill="#c0c0c0"/>
<rect x="355" y="591" width="1" height="97" fill="#c0c0c0"/>
<rect x="363" y="596" width="1" height="92" fill="#c0c0c0"/>
<rect x="371" y="601" width="1" height="87" fill="#c0c0c0"/>
<rect x="379" y="605" width="1" height="83" fill="#c0c0c0"/>
<rect x="387" y="604" width="1" height="84" fill="#c0c0c0"/>
<rect x="395" y="606" width="1" height="82" fill="#c0c0c0"/>
<rect x="403" y="607" width="1" height="81" fill="#c0c0c0"/>
<rect x="411" y="614" width="1" height="74" fill="#c0c0c0"/>
<rect x="419" y="625" width="1" height="63" fill="#c0c0c0"/>
<rect x="427" y="632" width="1" height="56" fill="#c0c0c0"/>
<rect x="435" y="641" width="1" height="47" fill="#c0c0c0"/>
<rect x="443" y="649" width="1" height="39" fill="#c0c0c0"/>
<rect x="451" y="662" width="1" height="26" fill="#c0c0c0"/>
<rect x="459" y="669" width="1" height="19" fill="#c0c0c0"/>
<rect x="467" y="677" width="1" height="11" fill="#c0c0c0"/>
<rect x="475" y="682" width="1" height="6" fill="#c0c0c0"/>
<rect x="483" y="685" width="1" height="3" fill="#c0c0c0"/>
<rect x="491" y="687" width="1" height="5" fill="#c0c0c0"/>
<rect x="499" y="687" width="1" height="15" fill="#c0c0c0"/>
<rect x="507" y="687" width="1" height="22" fill="#c0c0c0"/>
<rect x="515" y="687" width="1" height="27" fill="#c0c0c0"/>
<rect x="523" y="687" width="1" height="31" fill="#c0c0c0"/>
<rect x="531" y="687" width="1" height="33" fill="#c0c0c0"/>
<rect x="539" y="687" width="1" height="31" fill="#c0c0c0"/>
<rect x="547" y="687" width="1" height="24" fill="#c0c0c0"/>
<rect x="555" y="687" width="1" height="17" fill="#c0c0c0"/>
<rect x="563" y="687" width="1" height="11" fill="#c0c0c0"/>
<rect x="571" y="687" width="1" height="5" fill="#c0c0c0"/>
<rect x="579" y="687" width="1" height="2" fill="#c0c0c0"/>
<rect x="587" y="681" width="1" height="7" fill="#c0c0c0"/>
<rect x="595" y="681" width="1" height="7" fill="#c0c0c0"/>
<rect x="603" y="673" width="1" height="15" fill="#c0c0c0"/>
<rect x="611" y="667" width="1" height="21" fill="#c0c0c0"/>
<rect x="619" y="663" width="1" height="25" fill="#c0c0c0"/>
<rect x="627" y="659" width="1" height="29" fill="#c0c0c0"/>
<rect x="635" y="657" width="1" height="31" fill="#c0c0c0"/>
<rect x="643" y="662" width="1" height="26" fill="#c0c0c0"/>
<rect x="651" y="664" width="1" height="24" fill="#c0c0c0"/>
<rect x="659" y="665" width="1" height="23" fill="#c0c0c0"/>
<rect x="667" y="667" width="1" height="21" fill="#c0c0c0"/>
<rect x="675" y="663" width="1" height="25" fill="#c0c0c0"/>
<rect x="683" y="657" width="1" height="31" fill="#c0c0c0"/>
<rect x="691" y="656" width="1" height="32" fill="#c0c0c0"/>
<rect x="699" y="651" width="1" height="37" fill="#c0c0c0"/>
<rect x="707" y="648" width="1" height="40" fill="#c0c0c0"/>
<rect x="715" y="646" width="1" height="42" fill="#c0c0c0"/>
<rect x="723" y="648" width="1" height="40" fill="#c0c0c0"/>
<rect x="731" y="649" width="1" height="39" fill="#c0c0c0"/>
<rect x="739" y="651" width="1" height="37" fill="#c0c0c0"/>
<rect x="747" y="651" width="1" height="37" fill="#c0c0c0"/>
<rect x="755" y="652" width="1" height="36" fill="#c0c0c0"/>
<rect x="763" y="651" width="1" height="37" fill="#c0c0c0"/>
<rect x="771" y="651" width="1" height="37" fill="#c0c0c0"/>
<rect x="779" y="651" width="1" height="37" fill="#c0c0c0"/>
<rect x="787" y="647" width="1" height="41" fill="#c0c0c0"/>
<rect x="795" y="642" width="1" height="46" fill="#c0c0c0"/>
<rect x="803" y="639" width="1" height="49" fill="#c0c0c0"/>
<rect x="811" y="634" width="1" height="54" fill="#c0c0c0"/>
<rect x="819" y="630" width="1" height="58" fill="#c0c0c0"/>
<rect x="827" y="629" width="1" height="59" fill="#c0c0c0"/>
<rect x="835" y="630" width="1" height="58" fill="#c0c0c0"/>
<rect x="843" y="633" width="1" height="55" fill="#c0c0c0"/>
<rect x="851" y="649" width="1" height="39" fill="#c0c0c0"/>
<rect x="859" y="655" width="1" height="33" fill="#c0c0c0"/>
<rect x="867" y="661" width="1" height="27" fill="#c0c0c0"/>
<rect x="875" y="669" width="1" height="19" fill="#c0c0c0"/>
<rect x="883" y="679" width="1" height="9" fill="#c0c0c0"/>
<rect x="891" y="680" width="1" height="8" fill="#c0c0c0"/>
<rect x="899" y="679" width="1" height="9" fill="#c0c0c0"/>
<rect x="907" y="680" width="1" height="8" fill="#c0c0c0"/>
<rect x="915" y="684" width="1" height="4" fill="#c0c0c0"/>
<rect x="923" y="687" width="1" height="2" fill="#c0c0c0"/>
<rect x="931" y="686" width="1" height="2" fill="#c0c0c0"/>
<rect x="939" y="682" width="1" height="6" fill="#c0c0c0"/>
<rect x="947" y="681" width="1" height="7" fill="#c0c0c0"/>
<rect x="955" y="681" width="1" height="7" fill="#c0c0c0"/>
<rect x="963" y="679" width="1" height="9" fill="#c0c0c0"/>
<rect x="971" y="679" width="1" height="9" fill="#c0c0c0"/>
<rect x="979" y="678" width="1" height="10" fill="#c0c0c0"/>
<rect x="987" y="683" width="1" height="5" fill="#c0c0c0"/>
<rect x="995" y="687" width="1" height="1" fill="#c0c0c0"/>
<rect x="1003" y="687" width="1" height="4" fill="#c0c0c0"/>
<rect x="1011" y="687" width="1" height="11" fill="#c0c0c0"/>
<rect x="1019" y="687" width="1" height="14" fill="#c0c0c0"/>
<rect x="1027" y="687" width="1" height="20" fill="#c0c0c0"/>
<rect x="1035" y="687" width="1" height="27" fill="#c0c0c0"/>
<rect x="1043" y="687" width="1" height="34" fill="#c0c0c0"/>
<rect x="1051" y="687" width="1" height="39" fill="#c0c0c0"/>
<rect x="1059" y="687" width="1" height="38" fill="#c0c0c0"/>
<rect x="1067" y="687" width="1" height="36" fill="#c0c0c0"/>
<rect x="1075" y="687" width="1" height="34" fill="#c0c0c0"/>
<rect x="1083" y="687" width="1" height="32" fill="#c0c0c0"/>
<rect x="1091" y="687" width="1" height="32" fill="#c0c0c0"/>
<rect x="1099" y="687" width="1" height="33" fill="#c0c0c0"/>
<rect x="1107" y="687" width="1" height="34" fill="#c0c0c0"/>
<rect x="1115" y="687" width="1" height="35" fill="#c0c0c0"/>
<rect x="1123" y="687" width="1" height="36" fill="#c0c0c0"/>
<rect x="1131" y="687" width="1" height="38" fill="#c0c0c0"/>
<rect x="1139" y="687" width="1" height="40" fill="#c0c0c0"/>
<rect x="1147" y="687" width="1" height="44" fill="#c0c0c0"/>
<rect x="1155" y="687" width="1" height="47" fill="#c0c0c0"/>
<rect x="1163" y="687" width="1" height="46" fill="#c0c0c0"/>
<rect x="1171" y="687" width="1" height="38" fill="#c0c0c0"/>
<rect x="1179" y="687" width="1" height="32" fill="#c0c0c0"/>
<rect x="1187" y="687" width="1" height="27" fill="#c0c0c0"/>
<rect x="1195" y="687" width="1" height="22" fill="#c0c0c0"/>
<rect x="1203" y="687" width="1" height="19" fill="#c0c0c0"/>
<rect x="1211" y="687" width="1" height="16" fill="#c0c0c0"/>
<rect x="1219" y="687" width="1" height="13" fill="#c0c0c0"/>
<rect x="1227" y="687" width="1" height="11" fill="#c0c0c0"/>
<rect x="1235" y="687" width="1" height="11" fill="#c0c0c0"/>
<rect x="1243" y="687" width="1" height="12" fill="#c0c0c0"/>
<rect x="1251" y="687" width="1" height="17" fill="#c0c0c0"/>
<rect x="1259" y="687" width="1" height="22" fill="#c0c0c0"/>
<rect x="1267" y="687" width="1" height="23" fill="#c0c0c0"/>
<rect x="1275" y="687" width="1" height="7" fill="#c0c0c0"/>
<rect x="1283" y="679" width="1" height="9" fill="#c0c0c0"/>
<rect x="1291" y="670" width="1" height="18" fill="#c0c0c0"/>
<rect x="1299" y="670" width="1" height="18" fill="#c0c0c0"/>
<rect x="1307" y="669" width="1" height="19" fill="#c0c0c0"/>
<rect x="1315" y="665" width="1" height="23" fill="#c0c0c0"/>
<rect x="1323" y="661" width="1" height="27" fill="#c0c0c0"/>
<rect x="1331" y="657" width="1" height="31" fill="#c0c0c0"/>
<rect x="1339" y="654" width="1" height="34" fill="#c0c0c0"/>
<rect x="1347" y="654" width="1" height="34" fill="#c0c0c0"/>
<rect x="1355" y="654" width="1" height="34" fill="#c0c0c0"/>
<rect x="1363" y="654" width="1" height="34" fill="#c0c0c0"/>
<rect x="1371" y="662" width="1" height="26" fill="#c0c0c0"/>
<rect x="1379" y="674" width="1" height="14" fill="#c0c0c0"/>
<rect x="1387" y="679" width="1" height="9" fill="#c0c0c0"/>
<rect x="1395" y="683" width="1" height="5" fill="#c0c0c0"/>
<rect x="1403" y="687" width="1" height="1" fill="#c0c0c0"/>
<rect x="1411" y="687" width="1" height="9" fill="#c0c0c0"/>
<rect x="1419" y="687" width="1" height="15" fill="#c0c0c0"/>
<rect x="1427" y="687" width="1" height="19" fill="#c0c0c0"/>
<rect x="1435" y="687" width="1" height="22" fill="#c0c0c0"/>
<polyline points="-4.5,708.9 3.5,704.7 11.5,700.4 19.5,697.9 27.5,696.9 35.5,697.9 43.5,698.9 51.5,699.9 59.5,701.4 67.5,702.1 75.5,704.4 83.5,706.4 91.5,708.9 99.5,712.0 107.5,714.9 115.5,717.9 123.5,721.5 131.5,725.5 139.5,729.3 147.5,732.0 155.5,734.6 163.5,736.4 171.5,736.9 179.5,736.9 187.5,736.0 195.5,734.4 203.5,732.2 211.5,729.5 219.5,726.7 227.5,723.7 235.5,720.7 243.5,718.2 251.5,715.5 259.5,712.6 267.5,708.9 275.5,704.4 283.5,699.1 291.5,693.4 299.5,687.0 307.5,679.1 315.5,669.7 323.5,659.7 331.5,649.7 339.5,640.1 347.5,630.7 355.5,622.0 363.5,614.8 371.5,609.0 379.5,605.2 387.5,603.0 395.5,601.9 403.5,601.7 411.5,602.8 419.5,606.1 427.5,610.7 435.5,615.6 443.5,620.8 451.5,627.1 459.5,634.3 467.5,642.1 475.5,650.5 483.5,658.4 491.5,665.7 499.5,673.3 507.5,680.8 515.5,687.9 523.5,694.1 531.5,699.6 539.5,704.0 547.5,707.1 555.5,709.1 563.5,709.7 571.5,708.6 579.5,706.4 587.5,702.9 595.5,698.9 603.5,693.8 611.5,688.3 619.5,683.1 627.5,678.3 635.5,673.9 643.5,670.6 651.5,667.9 659.5,666.1 667.5,664.5 675.5,663.4 683.5,662.3 691.5,661.6 699.5,660.6 707.5,659.6 715.5,657.8 723.5,656.1 731.5,654.3 739.5,652.5 747.5,651.3 755.5,650.8 763.5,650.2 771.5,650.2 779.5,650.6 787.5,650.7 795.5,650.0 803.5,648.8 811.5,647.0 819.5,644.6 827.5,642.0 835.5,639.7 843.5,637.7 851.5,637.4 859.5,638.3 867.5,640.5 875.5,643.8 883.5,648.8 891.5,654.4 899.5,659.9 907.5,665.5 915.5,671.1 923.5,675.5 931.5,678.9 939.5,681.2 947.5,682.6 955.5,682.7 963.5,682.6 971.5,682.7 979.5,682.5 987.5,682.4 995.5,682.3 1003.5,682.8 1011.5,684.5 1019.5,686.5 1027.5,689.4 1035.5,693.2 1043.5,697.7 1051.5,702.9 1059.5,707.5 1067.5,711.4 1075.5,714.7 1083.5,717.0 1091.5,719.0 1099.5,720.4 1107.5,721.2 1115.5,721.3 1123.5,720.9 1131.5,721.0 1139.5,721.3 1147.5,722.5 1155.5,724.1 1163.5,725.7 1171.5,726.2 1179.5,726.0 1187.5,725.1 1195.5,723.4 1203.5,721.3 1211.5,718.7 1219.5,715.2 1227.5,711.2 1235.5,707.4 1243.5,704.5 1251.5,702.9 1259.5,702.4 1267.5,702.5 1275.5,701.1 1283.5,698.6 1291.5,695.5 1299.5,692.5 1307.5,689.4 1315.5,685.7 1323.5,681.0 1331.5,675.2 1339.5,669.2 1347.5,664.8 1355.5,662.1 1363.5,660.3 1371.5,659.4 1379.5,659.9 1387.5,661.5 1395.5,663.9 1403.5,667.3 1411.5,671.8 1419.5,677.2 1427.5,682.8 1435.5,688.8" fill="none" stroke="#ff0000" stroke-width="1" stroke-dasharray="3,3"/>
<line x1="0" y1="788.5" x2="1646" y2="788.5" stroke="#c0c0c0" stroke-dasharray="3,3"/>
<line x1="0" y1="839.5" x2="1646" y2="839.5" stroke="#c0c0c0" stroke-dasharray="3,3"/>
<line x1="0" y1="900.5" x2="1646" y2="900.5" stroke="#c0c0c0" stroke-dasharray="3,3"/>
<polyline points="-4.5,836.1 3.5,842.5 11.5,848.8 19.5,844.1 27.5,851.3 35.5,856.3 43.5,849.5 51.5,847.3 59.5,847.1 67.5,852.9 75.5,865.8 83.5,853.7 91.5,860.8 99.5,869.2 107.5,862.5 115.5,863.1 123.5,869.1 131.5,869.5 139.5,860.8 147.5,856.2 155.5,860.9 163.5,856.5 171.5,848.8 179.5,855.9 187.5,842.7 195.5,853.5 203.5,847.4 211.5,841.6 219.5,844.2 227.5,845.6 235.5,847.0 243.5,848.5 251.5,841.1 259.5,829.7 267.5,824.0 275.5,815.6 283.5,809.0 291.5,813.5 299.5,809.7 307.5,797.8 315.5,792.9 323.5,801.4 331.5,800.4 339.5,800.2 347.5,793.6 355.5,794.1 363.5,821.7 371.5,820.6 379.5,819.1 387.5,810.7 395.5,816.4 403.5,814.0 411.5,829.1 419.5,839.4 427.5,834.2 435.5,840.2 443.5,841.9 451.5,854.0 459.5,846.5 467.5,850.1 475.5,848.1 483.5,845.4 491.5,852.3 499.5,862.0 507.5,860.1 515.5,860.2 523.5,860.2 531.5,857.3 539.5,847.9 547.5,834.8 555.5,832.4 563.5,830.2 571.5,829.1 579.5,832.5 587.5,823.2 595.5,837.0 603.5,820.4 611.5,821.2 619.5,823.4 627.5,820.3 635.5,823.2 643.5,840.4 651.5,835.4 659.5,834.5 667.5,834.9 675.5,822.1 683.5,816.9 691.5,827.2 699.5,816.8 707.5,819.8 715.5,820.2 723.5,828.3 731.5,828.4 739.5,826.7 747.5,825.6 755.5,824.7 763.5,818.4 771.5,823.1 779.5,820.4 787.5,810.2 795.5,805.3 803.5,808.8 811.5,803.4 819.5,800.7 827.5,811.1 835.5,811.9 843.5,822.1 851.5,856.7 859.5,840.2 867.5,843.8 875.5,847.6 883.5,856.4 891.5,838.7 899.5,835.8 907.5,840.9 915.5,845.4 923.5,848.4 931.5,835.5 939.5,832.4 947.5,837.1 955.5,837.2 963.5,834.4 971.5,837.3 979.5,835.3 987.5,847.5 995.5,849.0 1003.5,849.3 1011.5,858.7 1019.5,851.5 1027.5,861.2 1035.5,864.5 1043.5,867.8 1051.5,868.1 1059.5,851.1 1067.5,851.7 1075.5,849.4 1083.5,849.9 1091.5,853.7 1099.5,859.2 1107.5,860.1 1115.5,861.2 1123.5,864.1 1131.5,865.5 1139.5,869.2 1147.5,876.5 1155.5,876.0 1163.5,863.1 1171.5,838.2 1179.5,840.0 1187.5,839.2 1195.5,837.1 1203.5,842.5 1211.5,839.3 1219.5,837.0 1227.5,842.2 1235.5,847.3 1243.5,852.2 1251.5,864.4 1259.5,868.1 1267.5,853.3 1275.5,813.3 1283.5,810.6 1291.5,818.9 1299.5,834.5 1307.5,832.9 1315.5,826.0 1323.5,822.3 1331.5,821.5 1339.5,821.9 1347.5,825.9 1355.5,827.7 1363.5,825.4 1371.5,846.5 1379.5,858.8 1387.5,847.5 1395.5,844.9 1403.5,849.3 1411.5,858.1 1419.5,858.1 1427.5,855.1 1435.5,855.0" fill="none" stroke="#1e90ff" stroke-width="1"/>

<rect x="1692" y="23" width="1" height="921" fill="#e4e4e4"/>
<rect x="0" y="25" width="1647" height="1" fill="#000"/>
<rect x="1646" y="25" width="1" height="902" fill="#000"/>
<rect x="0" y="578" width="1647" height="1" fill="#000"/>
<rect x="1646" y="579" width="1" height="1" fill="#fff"/>
<rect x="0" y="580" width="1647" height="1" fill="#000"/>
<rect x="0" y="750" width="1647" height="1" fill="#000"/>
<rect x="1646" y="751" width="1" height="1" fill="#fff"/>
<rect x="0" y="752" width="1647" height="1" fill="#000"/>
<rect x="0" y="926" width="1647" height="1" fill="#000"/>

<rect x="1647" y="47" width="2" height="1" fill="#000"/><rect x="1647" y="80" width="2" height="1" fill="#000"/><rect x="1647" y="113" width="2" height="1" fill="#000"/><rect x="1647" y="146" width="2" height="1" fill="#000"/><rect x="1647" y="179" width="2" height="1" fill="#000"/><rect x="1647" y="212" width="2" height="1" fill="#000"/><rect x="1647" y="245" width="2" height="1" fill="#000"/><rect x="1647" y="278" width="2" height="1" fill="#000"/><rect x="1647" y="311" width="2" height="1" fill="#000"/><rect x="1647" y="410" width="2" height="1" fill="#000"/><rect x="1647" y="443" width="2" height="1" fill="#000"/><rect x="1647" y="476" width="2" height="1" fill="#000"/><rect x="1647" y="509" width="2" height="1" fill="#000"/><rect x="1647" y="542" width="2" height="1" fill="#000"/><rect x="1647" y="575" width="2" height="1" fill="#000"/><rect x="1647" y="582" width="2" height="1" fill="#000"/><rect x="1647" y="687" width="2" height="1" fill="#000"/><rect x="1647" y="748" width="2" height="1" fill="#000"/><rect x="1647" y="754" width="2" height="1" fill="#000"/><rect x="1647" y="788" width="2" height="1" fill="#000"/><rect x="1647" y="839" width="2" height="1" fill="#000"/><rect x="1647" y="900" width="2" height="1" fill="#000"/><rect x="1647" y="924" width="2" height="1" fill="#000"/><rect x="-13" y="927" width="1" height="3" fill="#000"/><rect x="51" y="927" width="1" height="3" fill="#000"/><rect x="115" y="927" width="1" height="3" fill="#000"/><rect x="179" y="927" width="1" height="3" fill="#000"/><rect x="243" y="927" width="1" height="3" fill="#000"/><rect x="307" y="927" width="1" height="3" fill="#000"/><rect x="371" y="927" width="1" height="3" fill="#000"/><rect x="435" y="927" width="1" height="3" fill="#000"/><rect x="499" y="927" width="1" height="3" fill="#000"/><rect x="563" y="927" width="1" height="3" fill="#000"/><rect x="627" y="927" width="1" height="3" fill="#000"/><rect x="691" y="927" width="1" height="3" fill="#000"/><rect x="755" y="927" width="1" height="3" fill="#000"/><rect x="819" y="927" width="1" height="3" fill="#000"/><rect x="883" y="927" width="1" height="3" fill="#000"/><rect x="947" y="927" width="1" height="3" fill="#000"/><rect x="1011" y="927" width="1" height="3" fill="#000"/><rect x="1075" y="927" width="1" height="3" fill="#000"/><rect x="1139" y="927" width="1" height="3" fill="#000"/><rect x="1203" y="927" width="1" height="3" fill="#000"/><rect x="1267" y="927" width="1" height="3" fill="#000"/><rect x="1331" y="927" width="1" height="3" fill="#000"/><rect x="1395" y="927" width="1" height="3" fill="#000"/>

<!-- handles on hlines at axis -->
<g fill="#fff" stroke-width="1">
<rect x="1641.5" y="237.5" width="4" height="4" stroke="#f00"/>
<rect x="1641.5" y="267.5" width="4" height="4" stroke="#f00"/>
<rect x="1641.5" y="345.5" width="4" height="4" stroke="#00f"/>
<rect x="1641.5" y="376.5" width="4" height="4" stroke="#00f"/>
</g>
<!-- shift triangle -->
<polygon points="1440,26 1450,26 1445,31" fill="#c0c0c0"/>


<g shape-rendering="auto">
<line x1="1331.5" y1="159" x2="1443" y2="346" stroke="#f00" stroke-width="3"/>
<polygon points="1447,353.5 1436.5,346.5 1445.5,340.5" fill="#f00"/>
<line x1="1368" y1="656" x2="1436" y2="696" stroke="#f00" stroke-width="3.2"/>
<polygon points="1442,699.5 1430,699 1435,690.5" fill="#f00"/>
<line x1="1337.5" y1="817" x2="1430" y2="862.5" stroke="#f00" stroke-width="3.2"/>
<polygon points="1436.5,866 1424.5,865 1429,856" fill="#f00"/>
</g>
<rect x="1363" y="296" width="120" height="8" fill="#00ff00"/>
<!-- label connectors -->
<rect x="786" y="54" width="10" height="1" fill="#f00"/>
<rect x="1322" y="155" width="10" height="1" fill="#f00"/>
<rect x="1250" y="398" width="10" height="1" fill="#f00"/>
<rect x="1278" y="298" width="6" height="1" fill="#f00"/>
<rect x="1283.5" y="296.5" width="3" height="3" fill="#fff" stroke="#f00"/>
<rect x="1418.5" y="345.5" width="2" height="3" fill="#fff" stroke="#f00"/>
<rect x="1421" y="347" width="7" height="1" fill="#f00"/>

</svg>
<div class="al" style="top:43px">116.365</div><div class="al" style="top:76px">116.180</div><div class="al" style="top:109px">115.995</div><div class="al" style="top:142px">115.810</div><div class="al" style="top:175px">115.625</div><div class="al" style="top:208px">115.440</div><div class="al" style="top:241px">115.255</div><div class="al" style="top:274px">115.070</div><div class="al" style="top:307px">114.885</div><div class="al" style="top:406px">114.330</div><div class="al" style="top:439px">114.145</div><div class="al" style="top:472px">113.960</div><div class="al" style="top:505px">113.775</div><div class="al" style="top:538px">113.590</div><div class="al" style="top:571px">113.405</div><div class="al" style="top:583px;left:1650px">0.4297</div><div class="al" style="top:683px;left:1650px">0.00</div><div class="al" style="top:739px;left:1650px">-0.2518</div><div class="al" style="top:755px;left:1650px">100</div><div class="al" style="top:784px;left:1650px">80</div><div class="al" style="top:835px;left:1650px">50</div><div class="al" style="top:896px;left:1650px">15</div><div class="al" style="top:915px;left:1650px">0</div>
<div class="tagb" style="top:233px;background:#ff0000"></div><div class="al" style="top:235px;color:#fff;-webkit-text-stroke-color:#fff">115.288</div><div class="tagb" style="top:263px;background:#ff0000"></div><div class="al" style="top:265px;color:#fff;-webkit-text-stroke-color:#fff">115.120</div><div class="tagb" style="top:292px;background:#32cd32"></div><div class="al" style="top:294px;color:#fff;-webkit-text-stroke-color:#fff">114.957</div><div class="tagb" style="top:341px;background:#0000ff"></div><div class="al" style="top:343px;color:#fff;-webkit-text-stroke-color:#fff">114.683</div><div class="tagb" style="top:372px;background:#0000ff"></div><div class="al" style="top:374px;color:#fff;-webkit-text-stroke-color:#fff">114.510</div><div class="tagb" style="top:311px;background:#000"></div><div class="al" style="top:312px;color:#fff;-webkit-text-stroke-color:#fff">114.859</div>
<div class="dl" style="left:-14px">18 Jan 2022</div><div class="dl" style="left:50px">20 Jan 00:00</div><div class="dl" style="left:114px">21 Jan 08:00</div><div class="dl" style="left:178px">24 Jan 16:00</div><div class="dl" style="left:242px">26 Jan 00:00</div><div class="dl" style="left:306px">27 Jan 08:00</div><div class="dl" style="left:370px">28 Jan 16:00</div><div class="dl" style="left:434px">1 Feb 00:00</div><div class="dl" style="left:498px">2 Feb 08:00</div><div class="dl" style="left:562px">3 Feb 16:00</div><div class="dl" style="left:626px">7 Feb 00:00</div><div class="dl" style="left:690px">8 Feb 08:00</div><div class="dl" style="left:754px">9 Feb 16:00</div><div class="dl" style="left:818px">11 Feb 00:00</div><div class="dl" style="left:882px">14 Feb 08:00</div><div class="dl" style="left:946px">15 Feb 16:00</div><div class="dl" style="left:1010px">17 Feb 00:00</div><div class="dl" style="left:1074px">18 Feb 08:00</div><div class="dl" style="left:1138px">21 Feb 16:00</div><div class="dl" style="left:1202px">23 Feb 00:00</div><div class="dl" style="left:1266px">24 Feb 08:00</div><div class="dl" style="left:1330px">25 Feb 16:00</div><div class="dl" style="left:1394px">1 Mar 00:00</div>
<div class="pl" style="left:724px;top:45px;width:62px;height:19px;font-size:17px;line-height:19px"><span style="transform:scaleX(.98)">116.327</span></div>
<div class="pl" style="left:1260px;top:146px;width:62px;height:19px;font-size:17px;line-height:19px"><span style="transform:scaleX(.98)">115.758</span></div>
<div class="pl" style="left:1188px;top:389px;width:62px;height:19px;font-size:17px;line-height:19px"><span style="transform:scaleX(.98)">114.398</span></div>
<div class="pl" style="left:1356px;top:338px;width:62px;height:19px;font-size:17px;line-height:19px"><span style="transform:scaleX(.98)">114.683</span></div>
<div class="pl" style="left:1286px;top:286px;width:75px;height:25px;font-size:22.5px;line-height:24px"><span style="transform:scaleX(.92)">114.957</span></div>
<div class="t9" style="left:2px;top:29px">USDJPY-,H4&nbsp; 114.849 114.905 114.800 114.859</div>
<div class="t9" style="left:-9.6px;top:585px">MACD(12,26,9) -0.0838 -0.0034</div>
<div class="t9" style="left:-10px;top:757px">RSI(14) 41.8807</div>
<div id="tb"><div class="bg"></div><div class="l1"></div><div class="l2"></div>
<div class="hl" style="left:334px;width:25px"></div>
<div class="hl" style="left:486px;width:25px"></div>
<div class="hl" style="left:514px;width:25px"></div>
<div class="hl" style="left:674px;width:25px"></div>
<div class="hl" style="left:1121px;width:23px"></div>
<svg width="1693" height="21" viewBox="0 0 1693 21"><rect x="7" y="1" width="1" height="18" fill="#a0a0a0"/>
<path d="M17.5 1.5h8l4 4v10h-12z" fill="#fdfdfd" stroke="#8a8a8a" stroke-width="1"/><path d="M25.5 1.5v4h4" fill="#e8e8e8" stroke="#8a8a8a" stroke-width="0.8"/>
<g fill="#9a9a9a"><rect x="20" y="4" width="3" height="1.5"/><rect x="20" y="7" width="6" height="1"/><rect x="20" y="9.5" width="6" height="1"/></g>
<path d="M25.5 7.5h3v4h4v3h-4v4h-3v-4h-4v-3h4z" fill="#22cc22" stroke="#0a8a0a" stroke-width="0.9"/><path d="M26.2 8.2h1v4.2h-4.2v-1h3.2z" fill="#7cf07c"/>
<g><polygon points="113,10.5 119.5,2 129,9.5 121.5,17" fill="#c8961a"/><polygon points="113.5,9.8 119.5,2 128.5,8.8 121.5,15.5" fill="#ebbe3c"/><polygon points="115.5,9.5 119.8,3.8 126.5,8.8 121.3,13.8" fill="#f3cf5c"/><polygon points="113,10.5 121.5,17 121.8,15.6 113.8,9.6" fill="#9a7010"/></g>
<g><path d="M144 2l7-1 3 1v8h-10z" fill="#2f8fe8"/><path d="M144 2l2.5 1v8l-2.5-1z" fill="#7cc0f8"/><rect x="148" y="4" width="4" height="1" fill="#fff"/><rect x="148" y="6.5" width="4" height="1" fill="#cfe6fb"/><path d="M144 16.5h10a3 3 0 0 0 0-6a3.2 3.2 0 0 0-5.5-1.5a3 3 0 0 0-4.5 1.8a2.900000 2.900000 0 0 0 0 5.7z" fill="#f4f7fb" stroke="#7c9cc8" stroke-width="1"/></g>
<g fill="none"><circle cx="177" cy="9" r="7.3" stroke="#b9cbe6" stroke-width="1.4"/><path d="M177 16.3a7.3 7.3 0 0 0 7.3-7.3" stroke="#7dbb6a" stroke-width="1.6"/><circle cx="177" cy="9" r="4.4" stroke="#86a6dc" stroke-width="1.3"/><circle cx="177" cy="9" r="1.7" fill="#2a62d0"/><rect x="176.3" y="9" width="1.5" height="8" fill="#2ca02c"/></g>
<g><path d="M197 7.5h14.5l-5 6v3.3l-4.5-1.8v-1.5z" fill="#f7dc4e" stroke="#c9a21a" stroke-width="0.8"/><path d="M199 8.5h5l-1 4z" fill="#fbf0a0"/><ellipse cx="204" cy="6.4" rx="8.3" ry="2.3" fill="#3f8fd8"/><ellipse cx="204.8" cy="4.2" rx="4.6" ry="3.3" fill="#62aeea"/><ellipse cx="204" cy="6.9" rx="6" ry="1.2" fill="#7cc0f4"/><circle cx="208.8" cy="12.6" r="4.1" fill="#d42a1c"/><rect x="207.3" y="11.1" width="3" height="3" fill="#fff"/></g>
<rect x="296" y="1" width="1" height="20" fill="#a0a0a0"/>
<rect x="300" y="2" width="3" height="1" fill="#a8a8a8"/>
<rect x="300" y="4" width="3" height="1" fill="#a8a8a8"/>
<rect x="300" y="6" width="3" height="1" fill="#a8a8a8"/>
<rect x="300" y="8" width="3" height="1" fill="#a8a8a8"/>
<rect x="300" y="10" width="3" height="1" fill="#a8a8a8"/>
<rect x="300" y="12" width="3" height="1" fill="#a8a8a8"/>
<rect x="300" y="14" width="3" height="1" fill="#a8a8a8"/>
<rect x="300" y="16" width="3" height="1" fill="#a8a8a8"/>
<rect x="300" y="18" width="3" height="1" fill="#a8a8a8"/>
<g fill="#505050"><rect x="314" y="4" width="1" height="13"/><rect x="312" y="14" width="13" height="1"/><polygon points="312.8,5.8 314.5,3 316.2,5.8"/><polygon points="324,12.8 326.6,14.5 324,16.2"/></g>
<g fill="#189a18"><rect x="320.3" y="4.3" width="1.4" height="8.4"/><rect x="321" y="4.6" width="3.2" height="1.2"/><rect x="317.8" y="11.4" width="3" height="1.2"/></g>
<g fill="#505050"><rect x="342" y="4" width="1" height="13"/><rect x="340" y="14" width="13" height="1"/><polygon points="340.8,5.8 342.5,3 344.2,5.8"/><polygon points="352,12.8 354.6,14.5 352,16.2"/></g>
<rect x="348" y="1" width="1" height="12" fill="#0a7a0a"/><rect x="346" y="3.5" width="5" height="7.5" fill="#2fd02f" stroke="#0a8a0a" stroke-width="1"/>
<g fill="#505050"><rect x="370" y="4" width="1" height="13"/><rect x="368" y="14" width="13" height="1"/><polygon points="368.8,5.8 370.5,3 372.2,5.8"/><polygon points="380,12.8 382.6,14.5 380,16.2"/></g>
<path d="M369 12.2c2.5-1.5 3.5-6 6.5-6c2.5 0 3.5 2.8 5.5 3.8" fill="none" stroke="#189a18" stroke-width="1.2"/>
<rect x="391" y="1" width="1" height="18" fill="#a0a0a0"/>
<line x1="410" y1="10.5" x2="415" y2="15.5" stroke="#c9a227" stroke-width="3" stroke-linecap="round"/><circle cx="406" cy="6.6" r="5.4" fill="#d8ecfb" stroke="#2a7ad8" stroke-width="1.3"/><rect x="403" y="5.8" width="6" height="1.7" fill="#2a6ac8"/><rect x="405.15" y="3.6" width="1.7" height="6" fill="#2a6ac8"/>
<line x1="438" y1="10.5" x2="443" y2="15.5" stroke="#c9a227" stroke-width="3" stroke-linecap="round"/><circle cx="434" cy="6.6" r="5.4" fill="#d8ecfb" stroke="#2a7ad8" stroke-width="1.3"/><rect x="431" y="5.8" width="6" height="1.7" fill="#2a6ac8"/>
<rect x="456" y="1" width="7.8" height="7.8" fill="#3aa024"/><rect x="457" y="4" width="5.8" height="3.8" fill="#eef4fb"/><rect x="458" y="5.5" width="3.8" height="1" fill="#68c048"/>
<rect x="464.5" y="1" width="7.8" height="7.8" fill="#2058c8"/><rect x="465.5" y="4" width="5.8" height="3.8" fill="#eef4fb"/><rect x="466.5" y="5.5" width="3.8" height="1" fill="#4c86e6"/>
<rect x="456" y="9.2" width="7.8" height="7.8" fill="#2058c8"/><rect x="457" y="12.2" width="5.8" height="3.8" fill="#eef4fb"/><rect x="458" y="13.7" width="3.8" height="1" fill="#4c86e6"/>
<rect x="464.5" y="9.2" width="7.8" height="7.8" fill="#3aa024"/><rect x="465.5" y="12.2" width="5.8" height="3.8" fill="#eef4fb"/><rect x="466.5" y="13.7" width="3.8" height="1" fill="#68c048"/>
<rect x="481" y="1" width="1" height="18" fill="#a0a0a0"/>
<g fill="#505050"><rect x="494" y="4" width="1" height="13"/><rect x="492" y="14" width="13" height="1"/><polygon points="492.8,5.8 494.5,3 496.2,5.8"/><polygon points="504,12.8 506.6,14.5 504,16.2"/></g>
<polygon points="499,5 503.5,8.5 499,12" fill="#fff" stroke="#189a18" stroke-width="1.2"/>
<g fill="#505050"><rect x="522" y="4" width="1" height="13"/><rect x="520" y="14" width="13" height="1"/><polygon points="520.8,5.8 522.5,3 524.2,5.8"/><polygon points="532,12.8 534.6,14.5 532,16.2"/></g>
<rect x="528" y="3" width="1.3" height="10" fill="#1c6fb0"/><polygon points="529.5,8.5 533,6 533,11" fill="#e04a10"/><rect x="532" y="8" width="3" height="1" fill="#e04a10"/>
<rect x="543" y="1" width="1" height="18" fill="#a0a0a0"/>
<path d="M553.5 1.5h8l4 4v10h-12z" fill="#fdfdfd" stroke="#8a8a8a" stroke-width="1"/><path d="M561.5 1.5v4h4" fill="#e8e8e8" stroke="#8a8a8a" stroke-width="0.8"/>
<path d="M558 5c-1.5 0-1.5 1.5-1.5 2.5s0 1.5-1 1.5c1 0 1 1 1 2" fill="none" stroke="#888" stroke-width="0.9"/>
<path d="M561.5 7.5h3v4h4v3h-4v4h-3v-4h-4v-3h4z" fill="#22cc22" stroke="#0a8a0a" stroke-width="0.9"/><path d="M562.2 8.2h1v4.2h-4.2v-1h3.2z" fill="#7cf07c"/>
<polygon points="575,8 581,8 578,11" fill="#000"/>
<g><circle cx="599" cy="8.7" r="7.6" fill="#1f6fd6"/><circle cx="599" cy="8.7" r="7.6" fill="none" stroke="#0f4aa8" stroke-width="0.8"/><circle cx="599" cy="8.7" r="5.3" fill="#f4f8fd"/><rect x="598.5" y="5" width="1.2" height="4.5" fill="#333"/><rect x="598.5" y="8.5" width="3.5" height="1.2" fill="#333"/></g>
<polygon points="614,8 620,8 617,11" fill="#000"/>
<g><rect x="630.5" y="2.5" width="15" height="13" fill="#fff" stroke="#2a6fd0" stroke-width="1.4"/><rect x="631" y="3" width="14" height="1.5" fill="#8fb8ec"/><rect x="631" y="9" width="14" height="1" fill="#2a6fd0"/><polyline points="632.5,8 635,7 637,7.5 639,6 641.5,6.5 643.5,5.5" fill="none" stroke="#a8200c" stroke-width="1.3"/><polyline points="633,13.5 635.5,12.5 637.5,13.5 640.5,11.5 643.5,13.5" fill="none" stroke="#0c8a20" stroke-width="1.3"/></g>
<polygon points="653,8 659,8 656,11" fill="#000"/>
<rect x="664" y="1" width="1" height="20" fill="#a0a0a0"/>
<rect x="668" y="2" width="3" height="1" fill="#a8a8a8"/>
<rect x="668" y="4" width="3" height="1" fill="#a8a8a8"/>
<rect x="668" y="6" width="3" height="1" fill="#a8a8a8"/>
<rect x="668" y="8" width="3" height="1" fill="#a8a8a8"/>
<rect x="668" y="10" width="3" height="1" fill="#a8a8a8"/>
<rect x="668" y="12" width="3" height="1" fill="#a8a8a8"/>
<rect x="668" y="14" width="3" height="1" fill="#a8a8a8"/>
<rect x="668" y="16" width="3" height="1" fill="#a8a8a8"/>
<rect x="668" y="18" width="3" height="1" fill="#a8a8a8"/>
<path d="M682 2.5v11l2.5-2.5l2.3 5l1.8-0.8l-2.3-4.9h3.6z" fill="#505050"/>
<g fill="#505050"><rect x="707" y="9" width="6" height="1"/><rect x="716" y="9" width="6" height="1"/><rect x="714" y="2" width="1" height="6"/><rect x="714" y="11" width="1" height="6"/><rect x="714" y="9" width="1" height="1"/></g>
<rect x="731" y="1" width="1" height="18" fill="#a0a0a0"/>
<rect x="748" y="3" width="1.3" height="13" fill="#505050"/>
<rect x="771" y="9" width="12" height="1.3" fill="#505050"/>
<line x1="799" y1="16" x2="811" y2="4" stroke="#505050" stroke-width="1.2"/>
<g stroke="#505050" stroke-width="1" fill="none"><line x1="825" y1="11" x2="836" y2="3"/><line x1="826" y1="15" x2="839" y2="6"/><line x1="828" y1="16" x2="840" y2="8"/><line x1="828" y1="8" x2="829" y2="15"/><line x1="831" y1="6" x2="832" y2="13"/><line x1="834" y1="4" x2="835" y2="11"/><line x1="837" y1="1" x2="838" y2="8"/></g>
<text x="836" y="18" font-size="6" font-weight="bold" fill="#444" font-family="Liberation Sans">E</text>
<line x1="854" y1="2.5" x2="867" y2="2.5" stroke="#505050" stroke-width="1" stroke-dasharray="1,1"/>
<line x1="854" y1="5.5" x2="867" y2="5.5" stroke="#505050" stroke-width="1" stroke-dasharray="1,1"/>
<line x1="854" y1="9.5" x2="867" y2="9.5" stroke="#505050" stroke-width="1" stroke-dasharray="1,1"/>
<line x1="854" y1="13.5" x2="863" y2="13.5" stroke="#505050" stroke-width="1" stroke-dasharray="1,1"/>
<text x="864" y="18" font-size="6" font-weight="bold" fill="#444" font-family="Liberation Sans">F</text>
<text x="884.3" y="14" font-size="12.5" stroke="#505050" stroke-width="0.4" fill="#505050" font-family="Liberation Sans">A</text>
<rect x="911" y="3" width="12" height="12.5" fill="none" stroke="#505050" stroke-dasharray="1,1"/><text x="913" y="14" font-size="12.5" stroke="#505050" stroke-width="0.4" fill="#505050" font-family="Liberation Sans">T</text>
<g fill="#505050"><polygon points="938.5,5.5 941.5,2 944.5,5.5 941.5,7.5"/><polygon points="945.5,12 948.5,10 951.5,12 948.5,15.5"/></g><polyline points="940,9.5 942.5,12 947,6" fill="none" stroke="#505050" stroke-width="1.3"/>
<polygon points="959,8 965,8 962,11" fill="#000"/>
<rect x="970" y="1" width="1" height="20" fill="#a0a0a0"/>
<rect x="974" y="2" width="3" height="1" fill="#a8a8a8"/>
<rect x="974" y="4" width="3" height="1" fill="#a8a8a8"/>
<rect x="974" y="6" width="3" height="1" fill="#a8a8a8"/>
<rect x="974" y="8" width="3" height="1" fill="#a8a8a8"/>
<rect x="974" y="10" width="3" height="1" fill="#a8a8a8"/>
<rect x="974" y="12" width="3" height="1" fill="#a8a8a8"/>
<rect x="974" y="14" width="3" height="1" fill="#a8a8a8"/>
<rect x="974" y="16" width="3" height="1" fill="#a8a8a8"/>
<rect x="974" y="18" width="3" height="1" fill="#a8a8a8"/>
<rect x="1231" y="1" width="1" height="20" fill="#a0a0a0"/>
<line x1="1645.5" y1="9.3" x2="1641.3" y2="13.5" stroke="#1f4fc4" stroke-width="2.4" stroke-linecap="round"/><circle cx="1648.4" cy="6.3" r="3.9" fill="#f4f4f4" stroke="#2a5fd8" stroke-width="1.3"/>
<g><ellipse cx="1670" cy="11.5" rx="5.5" ry="4.5" fill="#e4e6ee" stroke="#c8c8d0" stroke-width="0.8"/><polygon points="1667.5,15 1668.5,18 1671,15.5" fill="#e0e2ea"/><circle cx="1679.7" cy="6.3" r="8.3" fill="#e0301c"/><rect x="1679" y="2" width="2.2" height="9" fill="#fff"/><rect x="1676.5" y="9.3" width="7" height="1.7" fill="#fff"/><polygon points="1676.3,4.5 1679,2 1679,4.2 1676.3,6" fill="#fff"/></g></svg>
<div class="txt" style="left:36.5px;letter-spacing:.4px;font-size:12.5px">New Order</div>
<div class="txt" style="left:217px;letter-spacing:.27px;font-size:12.5px">AutoTrading</div>
<div class="tf" style="left:977px">M1</div><div class="tf" style="left:1005px">M5</div><div class="tf" style="left:1033px">M15</div><div class="tf" style="left:1061.5px">M30</div><div class="tf" style="left:1089px">H1</div><div class="tf" style="left:1117px">H4</div><div class="tf" style="left:1145.5px">D1</div><div class="tf" style="left:1174px">W1</div><div class="tf" style="left:1201.5px">MN</div>
</div>
<div id="tp">
<div class="btn" style="left:0;width:42px;border-right:1px solid #c40a0a;text-indent:2px;letter-spacing:-.8px">SELL<i style="position:absolute;left:0;bottom:0;width:38px;height:1px;background:#b40808"></i></div>
<div id="vol"><div class="sb" style="left:1px;border-right:1px solid #a3a9b3"><svg width="19" height="18" style="position:absolute;left:0;top:0"><polygon points="7,8 12,8 9.5,11" fill="#3c50c8"/></svg></div><div class="v">1.00</div><div class="sb" style="right:1px;border-left:1px solid #a3a9b3"><svg width="19" height="18" style="position:absolute;left:0;top:0"><polygon points="6.5,11 11.5,11 9,8" fill="#3c50c8"/></svg></div></div>
<div class="btn" style="left:157px;width:52px;border-left:1px solid #c40a0a;border-right:1px solid #c40a0a;text-align:center;letter-spacing:-.4px">BUY<i style="position:absolute;left:3px;bottom:0;width:44px;height:1px;background:#b40808"></i></div>
<div class="pp" style="left:0;width:99px"><span class="s" style="left:13px">114</span><span class="b" style="left:37.5px">85</span><span class="u" style="left:77px">9</span></div>
<div class="pp" style="left:101px;width:108px"><span class="s" style="left:22.5px">114</span><span class="b" style="left:48px">88</span><span class="u" style="left:87.5px">0</span></div>
</div>
</body></html>
